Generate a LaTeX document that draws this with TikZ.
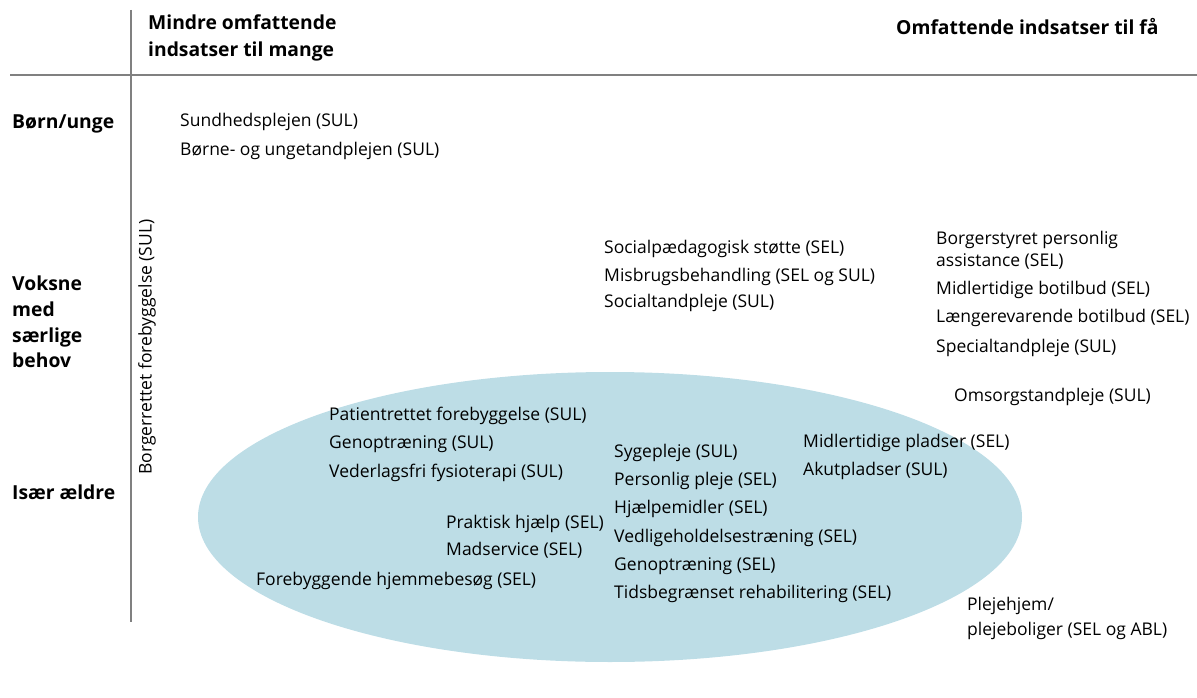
\documentclass[tikz,border=0pt]{standalone}
\usepackage{fontspec}
\setmainfont{Open Sans}
\definecolor{ellfill}{RGB}{189,221,230}
\definecolor{rulegray}{RGB}{128,128,128}
\begin{document}
\begin{tikzpicture}[x=1pt,y=-1pt,
  txt/.style={anchor=base west, inner sep=0pt, font=\fontsize{17.5}{20}\selectfont},
  hdr/.style={anchor=base west, inner sep=0pt, font=\fontsize{19.3}{22}\selectfont\bfseries},
  rulestyle/.style={draw=rulegray, line width=1.1pt}]
\useasboundingbox (0,0) rectangle (1197,698);
% ellipse
\fill[ellfill] (610,517) ellipse [x radius=412, y radius=145];
% rules
\coordinate (vtop) at (131,10);
\coordinate (vbot) at (131,622);
\coordinate (hl) at (10,75);
\coordinate (hr) at (1197,75);
\draw[rulestyle] (vtop) -- (vbot);
\draw[rulestyle] (hl) -- (hr);
% headers
\node[hdr] (h1) at (148,30) {Mindre omfattende};
\node[hdr] (h2) at (148,57) {indsatser til mange};
\node[hdr] (h3) at (896,35) {Omfattende indsatser til få};
% row labels
\node[hdr] (r1) at (12,129) {Børn/unge};
\node[hdr] (r2a) at (12,290) {Voksne};
\node[hdr] (r2b) at (12,316) {med};
\node[hdr] (r2c) at (12,342) {særlige};
\node[hdr] (r2d) at (12,367) {behov};
\node[hdr] (r3) at (12,499) {Især ældre};
% rotated
\node[inner sep=0pt, rotate=90, font=\fontsize{17.5}{20}\selectfont] (rot) at (147,347) {Borgerrettet forebyggelse (SUL)};
% children
\node[txt] (a1) at (180,127) {Sundhedsplejen (SUL)};
\node[txt] (a2) at (180,156) {Børne- og ungetandplejen (SUL)};
% adults
\node[txt] (b1) at (604,253) {Socialpædagogisk støtte (SEL)};
\node[txt] (b2) at (604,281) {Misbrugsbehandling (SEL og SUL)};
\node[txt] (b3) at (604,307) {Socialtandpleje (SUL)};
\node[txt] (c1) at (936,244) {Borgerstyret personlig};
\node[txt] (c2) at (936,266) {assistance (SEL)};
\node[txt] (c3) at (936,294) {Midlertidige botilbud (SEL)};
\node[txt] (c4) at (936,322) {Længerevarende botilbud (SEL)};
\node[txt] (c5) at (936,352) {Specialtandpleje (SUL)};
\node[txt] (d1) at (954,401) {Omsorgstandpleje (SUL)};
% elderly
\node[txt] (e1) at (329,420) {Patientrettet forebyggelse (SUL)};
\node[txt] (e2) at (329,448) {Genoptræning (SUL)};
\node[txt] (e3) at (329,477) {Vederlagsfri fysioterapi (SUL)};
\node[txt] (f1) at (614,457) {Sygepleje (SUL)};
\node[txt] (f2) at (614,485) {Personlig pleje (SEL)};
\node[txt] (f3) at (614,513) {Hjælpemidler (SEL)};
\node[txt] (f4) at (614,542) {Vedligeholdelsestræning (SEL)};
\node[txt] (f5) at (614,570) {Genoptræning (SEL)};
\node[txt] (f6) at (614,598) {Tidsbegrænset rehabilitering (SEL)};
\node[txt] (g1) at (803,447) {Midlertidige pladser (SEL)};
\node[txt] (g2) at (803,475) {Akutpladser (SUL)};
\node[txt] (p1) at (446,528) {Praktisk hjælp (SEL)};
\node[txt] (p2) at (446,555) {Madservice (SEL)};
\node[txt] (p3) at (256,585) {Forebyggende hjemmebesøg (SEL)};
\node[txt] (q1) at (967,610) {Plejehjem/};
\node[txt] (q2) at (967,635) {plejeboliger (SEL og ABL)};
\end{tikzpicture}
\end{document}
